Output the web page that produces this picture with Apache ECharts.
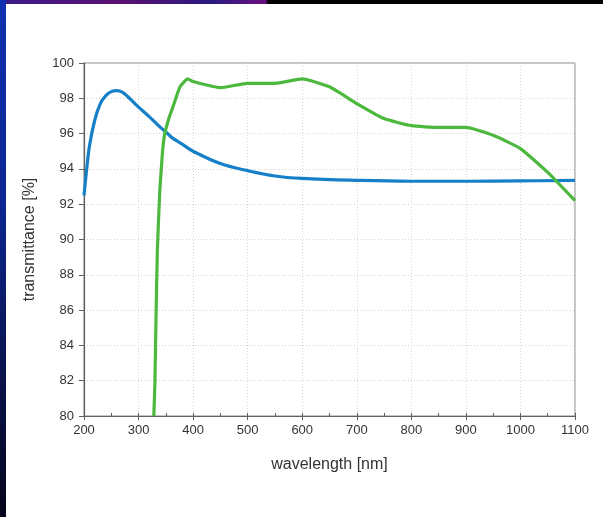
<!DOCTYPE html>
<html><head><meta charset="utf-8">
<script src="https://cdn.jsdelivr.net/npm/echarts@6/dist/echarts.min.js"></script>
<style>html,body{margin:0;padding:0;background:#fff}#c{width:603px;height:517px}</style>
</head><body><div id="c"></div>
<script>
// wavelength [nm], transmittance [%]
const blueX = [200,205,210,220,230,240,250,260,270,280,290,300,320,340,350,360,380,400,450,500,550,600,700,800,900,1000,1100];
const blueY = [92.5,94.0,95.3,96.8,97.7,98.15,98.38,98.43,98.35,98.1,97.8,97.5,96.95,96.35,96.1,95.8,95.4,95.0,94.3,93.9,93.6,93.46,93.35,93.3,93.3,93.32,93.35];
const greenX = [328,330,332,334.5,339,341.5,344,348,356,364,376,390,400,450,500,550,600,650,700,750,800,850,900,950,1000,1050,1100];
const greenY = [80,81.9,85.6,89.4,92.8,93.9,95.0,96.0,96.9,97.6,98.65,99.1,98.95,98.6,98.85,98.85,99.1,98.65,97.7,96.85,96.45,96.35,96.35,95.9,95.15,93.8,92.2];
const xTicks = [200,300,400,500,600,700,800,900,1000,1100];
const yTicks = [80,82,84,86,88,90,92,94,96,98,100];

const pair = (xs, ys) => xs.map((x, i) => [x, ys[i]]);
const chart = echarts.init(document.getElementById('c'), null, {renderer: 'canvas'});
const font = 'Liberation Sans, Arial, sans-serif';
chart.setOption({
  backgroundColor: '#fff',
  animation: false,
  graphic: [
    {type: 'rect', shape: {x: 0, y: 0, width: 603, height: 4}, silent: true,
     style: {fill: new echarts.graphic.LinearGradient(0, 0, 1, 0, [
       {offset: 0, color: '#3a1a8a'}, {offset: 0.2, color: '#5a1070'}, {offset: 0.35, color: '#2a1a80'},
       {offset: 0.44, color: '#6a1080'}, {offset: 0.445, color: '#000'}, {offset: 1, color: '#000'}])}},
    {type: 'rect', shape: {x: 0, y: 0, width: 6, height: 517}, silent: true,
     style: {fill: new echarts.graphic.LinearGradient(0, 0, 0, 1, [
       {offset: 0, color: '#1030b0'}, {offset: 0.4, color: '#0c2690'}, {offset: 0.7, color: '#0a1450'}, {offset: 1, color: '#05051a'}])}}
  ],
  grid: {left: 84, right: 28, top: 63, bottom: 101, show: true, borderColor: '#8a8a8a', borderWidth: 1, backgroundColor: 'transparent'},
  xAxis: [{
    type: 'value', min: 200, max: 1100, interval: 100,
    name: 'wavelength [nm]', nameLocation: 'middle', nameGap: 41,
    nameTextStyle: {fontFamily: font, fontSize: 16, color: '#333'},
    axisLine: {lineStyle: {color: '#606060', width: 1.2}},
    axisTick: {show: true, length: 4, lineStyle: {color: '#606060'}},
    axisLabel: {fontFamily: font, fontSize: 13, color: '#333', margin: 8,
      formatter: v => xTicks.includes(v) ? String(v) : ''},
    splitLine: {show: true, lineStyle: {color: '#d4d4d4', type: [1, 2], width: 1}}
  }, {
    type: 'value', min: 200, max: 1100, interval: 50, position: 'bottom',
    axisLine: {show: false}, axisLabel: {show: false}, splitLine: {show: false},
    axisTick: {show: true, inside: true, length: 3, lineStyle: {color: '#606060'}}
  }],
  yAxis: {
    type: 'value', min: 80, max: 100, interval: 2,
    name: 'transmittance [%]', nameLocation: 'middle', nameGap: 46, nameRotate: 90,
    nameTextStyle: {fontFamily: font, fontSize: 16, color: '#333'},
    axisLine: {show: true, lineStyle: {color: '#606060', width: 1.2}},
    axisTick: {show: true, length: 5, lineStyle: {color: '#606060'}},
    axisLabel: {fontFamily: font, fontSize: 13, color: '#333', margin: 10,
      formatter: v => yTicks.includes(v) ? String(v) : ''},
    splitLine: {show: true, lineStyle: {color: '#d4d4d4', type: [1, 2], width: 1}}
  },
  series: [
    {type: 'line', data: pair(blueX, blueY), smooth: 0.4, symbol: 'none',
     lineStyle: {color: '#1580c8', width: 3.2}, z: 3},
    {type: 'line', data: pair(greenX, greenY), smooth: 0.15, symbol: 'none',
     lineStyle: {color: '#4cb83e', width: 3.2}, z: 4}
  ]
});
</script></body></html>
